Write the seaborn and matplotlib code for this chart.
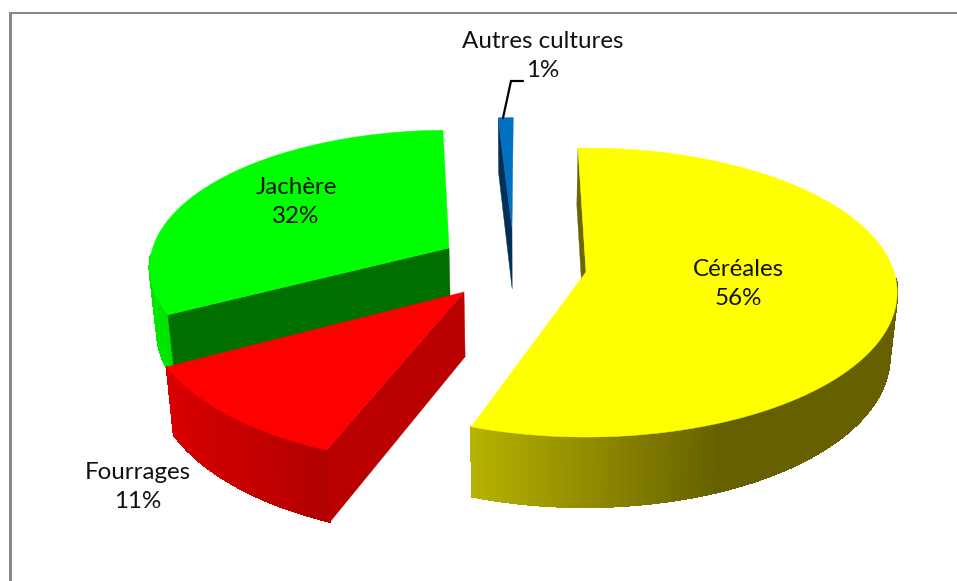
import numpy as np
import matplotlib
matplotlib.use("Agg")
import matplotlib.pyplot as plt
from matplotlib.collections import PolyCollection
from matplotlib.patches import Polygon, Rectangle
import seaborn as sns

# ---- data
categories = ["Céréales", "Fourrages", "Jachère", "Autres cultures"]
values = [55.7, 11.0, 32.3, 1.0]

# ---- style
START_ANGLE = -1.7
RX, RY, PERSP = 308.0, 141.6, 0.142
DEPTH, DEPTH_PERSP = 62.8, 0.102
CONVERGE_X, CONVERGE = 520.0, 0.02
# name: (apex x, apex y, x scale, y scale, extra rotation, depth scale)
explode = {
    "Céréales": (586, 272, 1.00, 1.00, 0.0, 1.0),
    "Fourrages": (464, 292, 1.02, 1.05, 3.56, 1.03),
    "Jachère": (449, 248, 0.962, 0.95, 3.96, 1.0),
    "Autres cultures": (512, 228, 0.89, 0.89, 2.0, 0.97),
}
top_col = {"Céréales": "#ffff00", "Fourrages": "#ff0000", "Jachère": "#00ff00", "Autres cultures": "#0070c0"}
cut_col = {"Céréales": "#6b6600", "Fourrages": "#bb0000", "Jachère": "#007000", "Autres cultures": "#00305a"}
wall_pal = {
    "Céréales": ["#b6b200", "#666000"],
    "Fourrages": ["#d80000", "#b00000"],
    "Jachère": ["#00e800", "#00e000"],
    "Autres cultures": ["#00305a", "#00305a"],
}
wall_range = {"Céréales": (471, 720), "Fourrages": (166, 325), "Jachère": (150, 175), "Autres cultures": (490, 520)}
labels = {
    "Céréales": (738, 284),
    "Fourrages": (138, 487),
    "Jachère": (296, 202),
    "Autres cultures": (543, 56),
}

sns.set_theme(style="white", rc={"axes.facecolor": "white", "figure.facecolor": "white"})
plt.rcParams["font.family"] = ["Lato", "DejaVu Sans"]

fig = plt.figure(figsize=(9.57, 5.81), dpi=100)
ax = fig.add_axes([0, 0, 1, 1])
ax.set_xlim(0, 957)
ax.set_ylim(581, 0)
ax.axis("off")


def project(name, x, y, z):
    """Disk coordinates (x right, y toward viewer, z down 0..1) to canvas."""
    ax0, ay0, scx, scy, _, ds = explode[name]
    x, y = np.asarray(x, float), np.asarray(y, float)
    s = 1.0 / (1.0 - PERSP * y)
    X = ax0 + RX * scx * x * s
    Y = ay0 + RY * scy * y * s + z * DEPTH * ds / (1.0 - DEPTH_PERSP * y)
    X = X + (CONVERGE_X - X) * CONVERGE * z
    return X, Y


def slices(vals):
    a = START_ANGLE
    tot = sum(vals)
    out = []
    for v in vals:
        b = a + 360.0 * v / tot
        out.append((a, b))
        a = b
    return out


spans = dict(zip(categories, slices(values)))


def draw_slice(name):
    a, b = spans[name]
    rot = explode[name][4]
    t = np.radians(np.linspace(a + rot, b + rot, max(6, int(b - a) * 3)))
    x, y = np.sin(t), -np.cos(t)
    xt, yt = project(name, x, y, 0)
    xb, yb = project(name, x, y, 1)
    # outer wall, shaded along the canvas; only the part facing the viewer
    lo, hi = wall_range[name]
    pal = sns.blend_palette(wall_pal[name], 256)
    quads, cols = [], []
    for i in range(len(t) - 1):
        if 0.5 * (y[i] + y[i + 1]) < 0.05:
            continue
        quads.append([(xt[i], yt[i]), (xt[i + 1], yt[i + 1]), (xb[i + 1], yb[i + 1]), (xb[i], yb[i])])
        f = np.clip((0.5 * (xt[i] + xt[i + 1]) - lo) / (hi - lo), 0, 1)
        cols.append(pal[int(f * 255)])
    if quads:
        ax.add_collection(PolyCollection(quads, facecolors=cols, edgecolors=cols, linewidths=1.0,
                                         antialiaseds=False))
    # cut face at the slice's leading edge
    ox, oy = project(name, 0, 0, 0)
    ox2, oy2 = project(name, 0, 0, 1)
    ax.add_patch(Polygon([(ox, oy), (xt[0], yt[0]), (xb[0], yb[0]), (ox2, oy2)],
                         closed=True, fc=cut_col[name], ec=cut_col[name], lw=0.3))
    # top face
    ax.add_patch(Polygon(np.r_[[[ox, oy]], np.c_[xt, yt]], closed=True,
                         fc=top_col[name], ec=top_col[name], lw=0.3))


for slice_name in ["Jachère", "Fourrages", "Céréales", "Autres cultures"]:
    draw_slice(slice_name)

# frame fragments
ax.add_patch(Rectangle((9, 12), 3, 569, fc="#888888", ec="none"))
ax.add_patch(Rectangle((9, 12), 948, 2.4, fc="#888888", ec="none"))

# leader
ax.plot([503, 511, 523], [118, 81, 81], color="black", lw=1.6, solid_joinstyle="miter")

for name, v in zip(categories, values):
    lx, ly = labels[name]
    ax.text(lx, ly, f"{name}\n{v:.0f}%", ha="center", va="center", fontsize=17.4,
            color="#111111", linespacing=1.5)

fig.savefig("out.png", dpi=100)
